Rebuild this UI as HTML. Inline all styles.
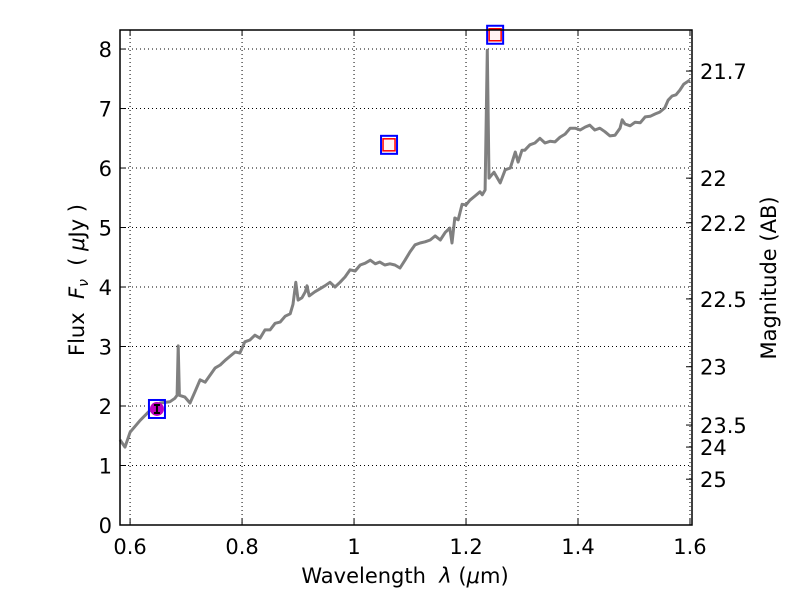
<!DOCTYPE html>
<html><head><meta charset="utf-8"><style>
body{margin:0;background:#fff;}
svg{display:block;font-family:"DejaVu Sans","Liberation Sans",sans-serif;}
</style></head><body>
<svg id="chart" width="800" height="600" viewBox="0 0 800 600" xmlns="http://www.w3.org/2000/svg">
<rect width="800" height="600" fill="#fff"/>
<g id="grid"></g>
<g id="series"></g>
<g id="axes"></g>
<text x="405" y="583" font-size="21" text-anchor="middle">Wavelength&#160;&#160;<tspan font-style="italic">λ</tspan> (<tspan font-style="italic">μ</tspan>m)</text>
<text transform="translate(84,280) rotate(-90)" font-size="21" text-anchor="middle">Flux&#160;&#160;<tspan font-style="italic">F</tspan><tspan font-style="italic" font-size="14" dy="4">ν</tspan><tspan dy="-4">&#160;&#160;( </tspan><tspan font-style="italic">μ</tspan>Jy )</text>
<text transform="translate(776,278) rotate(-90)" font-size="21" text-anchor="middle">Magnitude (AB)</text>
</svg>
<script>
const specLambda=[0.582,0.591,0.600,0.618,0.636,0.654,0.671,0.680,0.684,0.686,0.688,0.698,0.707,0.716,0.725,0.734,0.743,0.752,0.761,0.770,0.779,0.788,0.796,0.805,0.814,0.823,0.832,0.841,0.850,0.859,0.868,0.877,0.886,0.891,0.896,0.900,0.907,0.913,0.916,0.920,0.930,0.939,0.948,0.957,0.966,0.975,0.984,0.993,1.002,1.011,1.020,1.029,1.038,1.046,1.055,1.064,1.073,1.082,1.091,1.100,1.109,1.118,1.127,1.136,1.145,1.154,1.163,1.171,1.175,1.180,1.186,1.193,1.200,1.207,1.216,1.225,1.229,1.234,1.238,1.241,1.250,1.261,1.270,1.279,1.288,1.293,1.300,1.305,1.314,1.323,1.332,1.341,1.350,1.359,1.368,1.377,1.386,1.395,1.404,1.413,1.421,1.430,1.439,1.448,1.457,1.466,1.475,1.479,1.484,1.493,1.502,1.511,1.520,1.529,1.538,1.546,1.555,1.561,1.568,1.575,1.582,1.589,1.600];
const specFlux=[1.43,1.31,1.56,1.76,1.93,2.05,2.07,2.13,2.18,3.01,2.18,2.15,2.05,2.24,2.44,2.40,2.52,2.64,2.69,2.77,2.84,2.91,2.89,3.08,3.11,3.19,3.14,3.28,3.28,3.39,3.41,3.51,3.55,3.71,4.08,3.78,3.82,3.92,4.02,3.85,3.92,3.97,4.02,4.08,4.00,4.08,4.17,4.29,4.27,4.37,4.40,4.45,4.39,4.42,4.37,4.39,4.37,4.32,4.45,4.59,4.71,4.74,4.76,4.79,4.86,4.79,4.92,4.99,4.74,5.16,5.13,5.39,5.38,5.46,5.53,5.60,5.55,5.63,7.98,5.83,5.93,5.75,5.97,6.00,6.27,6.10,6.30,6.30,6.39,6.42,6.50,6.42,6.45,6.44,6.52,6.57,6.67,6.67,6.64,6.69,6.72,6.64,6.67,6.61,6.54,6.55,6.67,6.81,6.74,6.71,6.77,6.76,6.86,6.87,6.91,6.94,7.01,7.14,7.21,7.23,7.31,7.41,7.48];
const photLambda=[0.648,1.0625,1.252];
const photFlux=[1.95,6.39,8.24];
const xTicks=[0.6,0.8,1.0,1.2,1.4,1.6];
const xTickLabels=["0.6","0.8","1","1.2","1.4","1.6"];
const yTicks=[0,1,2,3,4,5,6,7,8];
const magLabels=["21.7","22","22.2","22.5","23","23.5","24","25"];
const magFlux=[7.63,5.83,5.08,3.80,2.66,1.68,1.31,0.77];

const L=120,R=692,T=30,B=525;
const X0=0.582,X1=1.6036,Y0=0,Y1=8.32;
const sx=v=>L+(v-X0)/(X1-X0)*(R-L);
const sy=v=>B-(v-Y0)/(Y1-Y0)*(B-T);
const NS="http://www.w3.org/2000/svg";
function mk(tag,attrs,parent){const e=document.createElementNS(NS,tag);for(const k in attrs)e.setAttribute(k,attrs[k]);parent.appendChild(e);return e;}
const grid=document.getElementById('grid'),series=document.getElementById('series'),axes=document.getElementById('axes');

xTicks.forEach((v,i)=>{
  const x=sx(v);
  const g=mk('line',{x1:x,x2:x,y1:T,y2:B,stroke:'#000','stroke-width':1,'stroke-dasharray':'1,3'},grid);
  
  
  const t1=mk('line',{x1:x,x2:x,y1:B,y2:B-6,stroke:'#000'},axes);
  
  
  const t2=mk('line',{x1:x,x2:x,y1:T,y2:T+6,stroke:'#000'},axes);
  
  
  const lb=mk('text',{x:x,y:B+29,'font-size':21,'text-anchor':'middle'},axes);
  lb.textContent=xTickLabels[i];
  
  
});
yTicks.forEach(v=>{
  const y=sy(v);
  if(v>0){
  const g=mk('line',{x1:L,x2:R,y1:y,y2:y,stroke:'#000','stroke-width':1,'stroke-dasharray':'1,3'},grid);
  
  }
  const t=mk('line',{x1:L,x2:L+6,y1:y,y2:y,stroke:'#000'},axes);
  
  
  const lb=mk('text',{x:L-8,y:y+8,'font-size':21,'text-anchor':'end'},axes);
  lb.textContent=String(v);
  
  
});
magFlux.forEach((f,i)=>{
  const y=sy(f);
  const t=mk('line',{x1:R,x2:R-6,y1:y,y2:y,stroke:'#000'},axes);
  
  
  const lb=mk('text',{x:R+8,y:y+8,'font-size':21},axes);
  lb.textContent=magLabels[i];
  
  
});
const frame=mk('rect',{x:L,y:T,width:R-L,height:B-T,fill:'none',stroke:'#000','stroke-width':1.5},axes);



const pts=specLambda.map((l,i)=>sx(l).toFixed(1)+','+sy(specFlux[i]).toFixed(1)).join(' ');
const line=mk('polyline',{points:pts,fill:'none',stroke:'#808080','stroke-width':3,'stroke-linejoin':'round'},series);



photLambda.forEach((l,i)=>{
  const x=sx(l),y=sy(photFlux[i]);
  const b=mk('rect',{x:x-8,y:y-9,width:16,height:18,fill:'none',stroke:'#0000ff','stroke-width':2},series);
  
  
  if(i===0){
    const c=mk('circle',{cx:x,cy:y,r:7,fill:'#bf00bf'},series);
    
    
    const e=mk('path',{d:`M${x},${y-4}V${y+4}M${x-3},${y-4}H${x+3}M${x-3},${y+4}H${x+3}`,stroke:'#000','stroke-width':2,fill:'none'},series);
    
    
  } else {
    const r=mk('rect',{x:x-6,y:y-6,width:12,height:12,fill:'#fff4f4',stroke:'#ff0000','stroke-width':1.5},series);
    
    
  }
});
</script>
</body></html>
